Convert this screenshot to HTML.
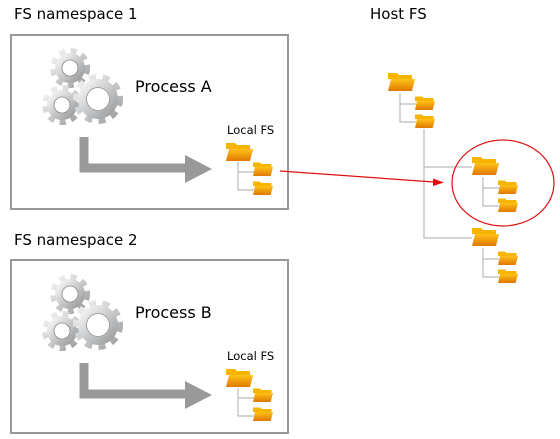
<!DOCTYPE html><html><head><style>body{margin:0;background:#fff}svg{display:block}text{font-family:"DejaVu Sans","Liberation Sans",sans-serif;fill:#000}</style></head><body>
<svg width="560" height="439" viewBox="0 0 560 439" xmlns="http://www.w3.org/2000/svg">
<defs>
<linearGradient id="fg" x1="0" y1="0" x2="0" y2="1"><stop offset="0" stop-color="#ffc21a"/><stop offset="1" stop-color="#e07800"/></linearGradient>
<linearGradient id="gg" x1="0" y1="0" x2="1" y2="1"><stop offset="0" stop-color="#f6f6f6"/><stop offset="0.5" stop-color="#c8cacc"/><stop offset="1" stop-color="#9a9c9e"/></linearGradient>
<g id="bf"><path d="M0 2 h9 l2 2 h13 v4 h-24z" fill="#f7b500"/><path d="M3 8 h24 l-3 12 h-24z" fill="url(#fg)"/></g>
<g id="sf"><path d="M0 1.5 h7 l1.5 1.5 h10 v3 h-18.5z" fill="#f7b500"/><path d="M2 6 h18 l-2.3 9 h-17.7z" fill="url(#fg)"/></g>
<g id="gear1">
<circle r="17" fill="none" stroke="url(#gg)" stroke-width="6" stroke-dasharray="6 5.5"/>
<circle r="11.5" fill="none" stroke="url(#gg)" stroke-width="7"/>
<circle r="8" fill="none" stroke="#888" stroke-width="0.8"/>
</g>
<g id="gears">
<use href="#gear1" transform="translate(70,68)"/>
<use href="#gear1" transform="translate(62,105)"/>
<g transform="translate(98,99)"><circle r="22" fill="none" stroke="url(#gg)" stroke-width="6" stroke-dasharray="7 6.5"/><circle r="16" fill="none" stroke="url(#gg)" stroke-width="8"/><circle r="11.5" fill="none" stroke="#888" stroke-width="0.8"/></g>
</g>
<g id="proc">
<use href="#gears"/>
<path d="M84 137 V168 H186" fill="none" stroke="#999" stroke-width="9"/>
<path d="M185 155 L212 169 L185 183z" fill="#999"/>
<text x="227" y="134" font-size="11.5">Local FS</text>
<path d="M238 162 V190 H254 M238 172 H254" fill="none" stroke="#bbb" stroke-width="1.2"/>
<use href="#bf" x="226" y="141"/>
<use href="#sf" x="253" y="161"/>
<use href="#sf" x="253" y="180"/>
</g>
</defs>
<text x="14" y="19" font-size="15">FS namespace 1</text>
<text x="370" y="19" font-size="15">Host FS</text>
<text x="14" y="245" font-size="15">FS namespace 2</text>
<rect x="11" y="35" width="277" height="174" fill="none" stroke="#999" stroke-width="2"/>
<rect x="11" y="260" width="277" height="173" fill="none" stroke="#999" stroke-width="2"/>
<use href="#proc"/>
<text x="135" y="92" font-size="16">Process A</text>
<use href="#proc" y="226"/>
<text x="135" y="318" font-size="16">Process B</text>
<path d="M400 93 V122 H416 M400 104 H416 M424 129 V238 H472 M424 167 H472 M483 177 V206 H499 M483 188 H499 M483 248 V277 H499 M483 259 H499" fill="none" stroke="#bbb" stroke-width="1.2"/>
<use href="#bf" x="388" y="71"/>
<use href="#sf" x="415" y="95"/>
<use href="#sf" x="415" y="113"/>
<use href="#bf" x="472" y="155"/>
<use href="#sf" x="498" y="179"/>
<use href="#sf" x="498" y="197"/>
<use href="#bf" x="472" y="226"/>
<use href="#sf" x="498" y="250"/>
<use href="#sf" x="498" y="268"/>
<ellipse cx="503" cy="183" rx="51" ry="43" fill="none" stroke="#e01010" stroke-width="1.2"/>
<line x1="280" y1="171" x2="434" y2="182" stroke="#e01010" stroke-width="1.2"/>
<path d="M444 182.5 L433 178.5 L433 186z" fill="#e01010"/>
</svg>
</body></html>
